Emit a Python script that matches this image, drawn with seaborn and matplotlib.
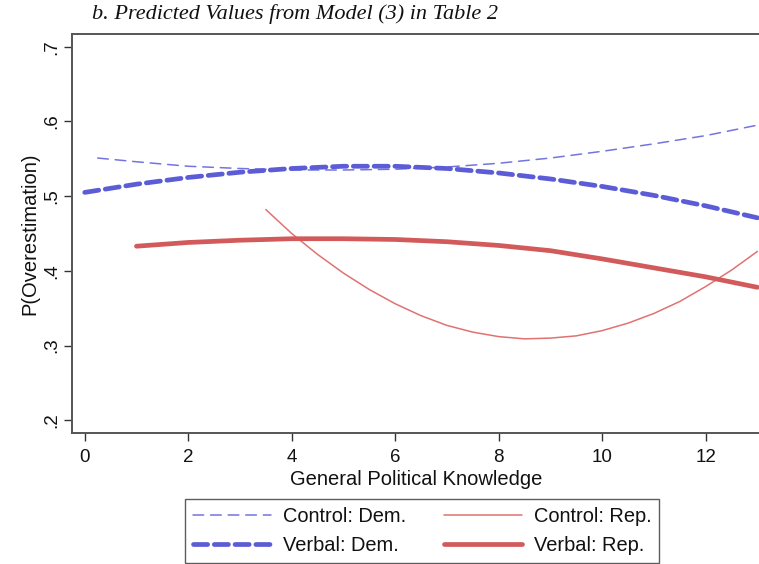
import matplotlib
matplotlib.use("Agg")
import matplotlib.pyplot as plt
import seaborn as sns
import pandas as pd

# ---- data ----
x_control_dem = [0.25, 1, 2, 3, 4, 5, 6, 7, 8, 9, 10, 11, 12, 13]
y_control_dem = [0.551, 0.546, 0.540, 0.537, 0.535, 0.535, 0.536, 0.539, 0.544,
                 0.551, 0.560, 0.570, 0.581, 0.595]

x_verbal_dem = [0, 1, 2, 3, 4, 5, 6, 7, 8, 9, 10, 11, 12, 13]
y_verbal_dem = [0.505, 0.516, 0.525, 0.532, 0.537, 0.540, 0.540, 0.537, 0.531,
                0.523, 0.513, 0.501, 0.487, 0.471]

x_control_rep = [3.5, 4, 4.5, 5, 5.5, 6, 6.5, 7, 7.5, 8, 8.5, 9, 9.5, 10,
                 10.5, 11, 11.5, 12, 12.5, 13]
y_control_rep = [0.482, 0.450, 0.422, 0.397, 0.375, 0.356, 0.340, 0.327, 0.318,
                 0.312, 0.309, 0.310, 0.313, 0.320, 0.330, 0.343, 0.359, 0.379,
                 0.401, 0.426]

x_verbal_rep = [1, 2, 3, 4, 5, 6, 7, 8, 9, 10, 11, 12, 13]
y_verbal_rep = [0.433, 0.438, 0.441, 0.443, 0.443, 0.442, 0.439, 0.434, 0.427,
                0.416, 0.404, 0.392, 0.378]

series_labels = ["Control: Dem.", "Verbal: Dem.", "Control: Rep.", "Verbal: Rep."]
x_ticks = [0, 2, 4, 6, 8, 10, 12]
y_ticks = [0.2, 0.3, 0.4, 0.5, 0.6, 0.7]
y_tick_labels = [".2", ".3", ".4", ".5", ".6", ".7"]

# ---- styling ----
sns.set_theme(style="white")
plt.rcParams["font.family"] = ["Liberation Sans", "DejaVu Sans"]

fig = plt.figure(figsize=(7.59, 5.64), dpi=100)
W, H = 759, 564
ax = fig.add_axes([72 / W, 1 - 433 / H, (761 - 72) / W, (433 - 34) / H])

blue = "#5c5cd6"
blue_light = "#7474e0"
red = "#d25a5a"
red_light = "#e07272"

specs = [
    (x_control_dem, y_control_dem, blue_light, 1.1, (7, 4.5)),
    (x_verbal_dem, y_verbal_dem, blue, 3.4, (3.0, 1.4)),
    (x_control_rep, y_control_rep, red_light, 1.1, None),
    (x_verbal_rep, y_verbal_rep, red, 3.4, None),
]

for (xs, ys, col, lw, dash), lab in zip(specs, series_labels):
    df = pd.DataFrame({"x": xs, "y": ys})
    sns.lineplot(data=df, x="x", y="y", ax=ax, color=col, linewidth=lw,
                 label=lab, legend=False, solid_capstyle="round",
                 dash_capstyle="round")
    if dash is not None:
        ax.lines[-1].set_dashes(dash)

ax.set_xlim(-0.246, 13.07)
ax.set_ylim(0.183, 0.717)
ax.set_xticks(x_ticks)
ax.set_xticklabels([str(t) for t in x_ticks])
ax.set_yticks(y_ticks)
ax.set_yticklabels(y_tick_labels, rotation=90, va="center")
ax.tick_params(axis="both", which="major", direction="out", length=5.5,
               width=1, color="#333333", labelsize=13.5, labelcolor="#111111",
               bottom=True, left=True)
ax.tick_params(axis="x", pad=6)
ax.tick_params(axis="y", pad=3)
for sp in ax.spines.values():
    sp.set_color("#555555")
    sp.set_linewidth(1.4)

ax.set_xlabel("General Political Knowledge", fontsize=14.5, color="#111111",
              labelpad=3)
ax.set_ylabel("P(Overestimation)", fontsize=14.5, color="#111111", labelpad=3)

fig.text(92 / W, 1 - 14 / H, "b. Predicted Values from Model (3) in Table 2",
         family=["Liberation Serif", "DejaVu Serif"], style="italic",
         fontsize=16, va="center", ha="left", color="#111111")

handles = ax.lines[:4]
leg = fig.legend(handles, series_labels, ncol=2, loc="center",
                 bbox_to_anchor=(422 / W, 1 - 531 / H), frameon=True,
                 fancybox=False, edgecolor="#333333", fontsize=14.4,
                 handlelength=3.9, handletextpad=0.6, columnspacing=1.9,
                 borderpad=0.38, labelspacing=0.52)
leg.get_frame().set_linewidth(1.0)
for t in leg.get_texts():
    t.set_color("#111111")

fig.savefig("out.png", dpi=100)
